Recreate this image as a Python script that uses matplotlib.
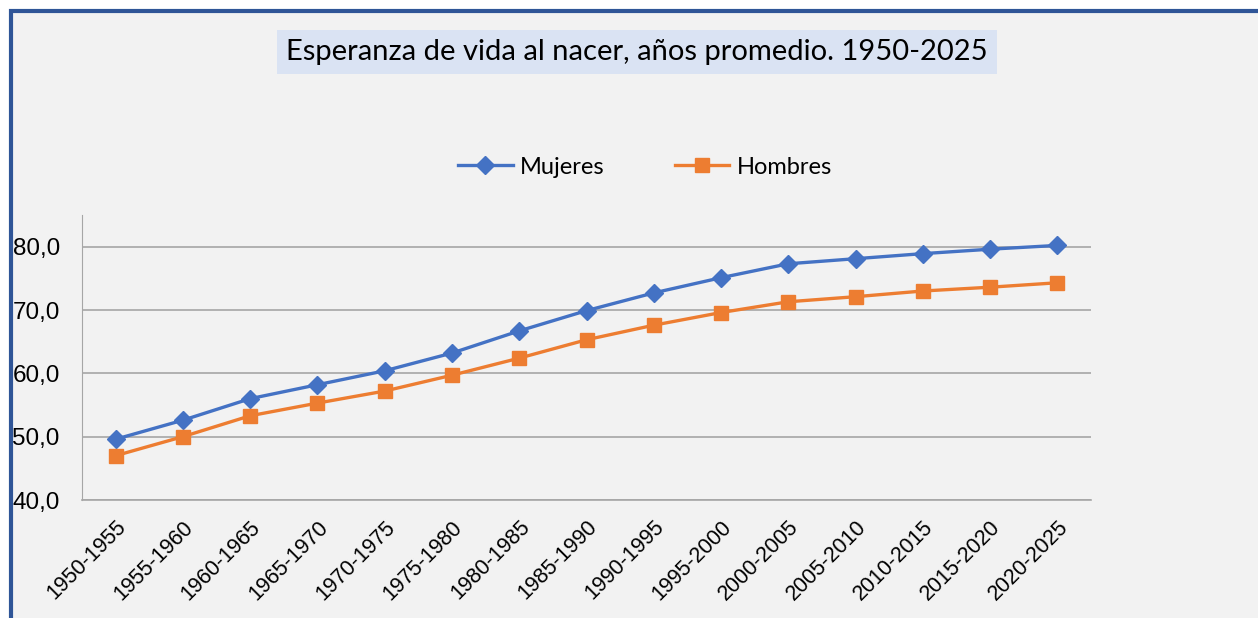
import matplotlib
matplotlib.use("Agg")
from matplotlib import pyplot as plt
from matplotlib.patches import Rectangle

periodos = ["1950-1955", "1955-1960", "1960-1965", "1965-1970", "1970-1975",
            "1975-1980", "1980-1985", "1985-1990", "1990-1995", "1995-2000",
            "2000-2005", "2005-2010", "2010-2015", "2015-2020", "2020-2025"]
mujeres = [49.6, 52.6, 56.0, 58.2, 60.4, 63.2, 66.7, 69.9, 72.7, 75.1,
           77.3, 78.1, 78.9, 79.6, 80.2]
hombres = [47.0, 50.0, 53.3, 55.3, 57.2, 59.7, 62.4, 65.3, 67.6, 69.6,
           71.3, 72.1, 73.0, 73.6, 74.3]
yticks = [40, 50, 60, 70, 80]

fig = plt.figure(figsize=(12.58, 6.18), dpi=100, facecolor="white")

# marco gris con borde azul
fig.patches.append(Rectangle((10.5 / 1258, -0.1), 1.2, 1.1 - 11.5 / 618,
                             transform=fig.transFigure, facecolor="#F2F2F2",
                             edgecolor="#2F5597", linewidth=3, zorder=-5))

ax = fig.add_axes([82 / 1258, 1 - 500 / 618, 1009 / 1258, 285 / 618])
ax.set_facecolor("none")

x = list(range(len(periodos)))
ax.plot(x, mujeres, color="#4472C4", lw=2.4, marker="D", ms=9.5, label="Mujeres", zorder=3)
ax.plot(x, hombres, color="#ED7D31", lw=2.4, marker="s", ms=10.5, label="Hombres", zorder=3)

ax.set_xlim(-0.5, len(periodos) - 0.5)
ax.set_ylim(40, 85)
ax.set_yticks(yticks)
ax.set_yticklabels([f"{v:.1f}".replace(".", ",") for v in yticks])
ax.set_xticks(x)
ax.set_xticklabels(periodos, rotation=45, ha="right", rotation_mode="anchor")
ax.tick_params(axis="y", length=0, pad=16)
ax.tick_params(axis="x", length=0, pad=12)
for lbl in ax.get_yticklabels():
    lbl.set_fontsize(17.5)
    lbl.set_family("Liberation Sans")
for lbl in ax.get_xticklabels():
    lbl.set_fontsize(15.5)
    lbl.set_family("Liberation Sans")

ax.grid(axis="y", color="#A6A6A6", lw=1.2)
ax.set_axisbelow(True)
for s in ["top", "right"]:
    ax.spines[s].set_visible(False)
ax.spines["left"].set_color("#A6A6A6")
ax.spines["bottom"].set_color("#A6A6A6")
ax.spines["bottom"].set_linewidth(1.2)

fig.text(637 / 1258, 1 - 52 / 618, "Esperanza de vida al nacer, años promedio. 1950-2025",
         ha="center", va="center", fontsize=21, family="Lato", color="black",
         bbox=dict(boxstyle="square,pad=0.32", facecolor="#DAE3F3", edgecolor="none"))

ax.legend(loc="center", bbox_to_anchor=(645 / 1258, 1 - 167 / 618),
          bbox_transform=fig.transFigure, ncol=2, frameon=False,
          prop={"family": "Lato", "size": 17}, handlelength=2.3,
          columnspacing=3.0, handletextpad=0.3)

fig.savefig("out.png", dpi=100, facecolor=fig.get_facecolor())
